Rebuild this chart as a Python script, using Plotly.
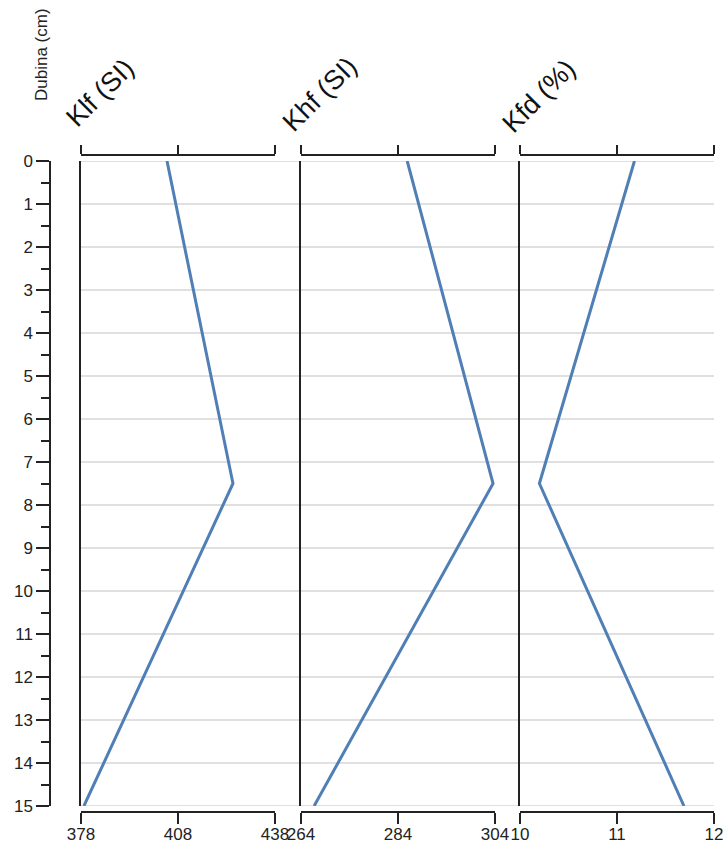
import plotly.graph_objects as go

depth = [0, 7.5, 15]
klf = [404.6, 425.0, 378.9]
khf = [285.9, 303.6, 266.7]
kfd = [11.18, 10.20, 11.69]

titles = ["Klf (SI)", "Khf (SI)", "Kfd (%)"]
ranges = [[378, 438], [264, 304], [10, 12]]
tickvals = [[378, 408, 438], [264, 284, 304], [10, 11, 12]]
depth_ticks = list(range(0, 16))

W, H = 723, 843
px = lambda x: x / W
py = lambda y: 1 - y / H

panels_px = [(81, 275), (301, 495), (520, 714)]
y_dom = [py(806), py(161)]
line_color = "#4f7fb5"
axis_color = "#222222"
font = "Liberation Sans, Arial, sans-serif"

fig = go.Figure()
series = [klf, khf, kfd]
for i, vals in enumerate(series):
    sfx = "" if i == 0 else str(i + 1)
    fig.add_trace(go.Scatter(x=vals, y=depth, mode="lines",
                             line=dict(color=line_color, width=3),
                             xaxis="x" + sfx, yaxis="y" + sfx, showlegend=False))
# dummy traces to ensure extra axes render
for k in range(4, 7):
    fig.add_trace(go.Scatter(x=[None], y=[None], xaxis="x%d" % k, yaxis="y",
                             showlegend=False, hoverinfo="skip"))
fig.add_trace(go.Scatter(x=[None], y=[None], xaxis="x", yaxis="y4",
                         showlegend=False, hoverinfo="skip"))

layout = dict(width=W, height=H,
              margin=dict(l=0, r=0, t=0, b=0, pad=0, autoexpand=False),
              paper_bgcolor="white", plot_bgcolor="rgba(0,0,0,0)",
              font=dict(family=font, color="#222222", size=17))

for i in range(3):
    sfx = "" if i == 0 else str(i + 1)
    dom = [px(panels_px[i][0]), px(panels_px[i][1])]
    # bottom data axis
    layout["xaxis" + sfx] = dict(domain=dom, range=ranges[i], anchor="free",
                                 position=py(812), side="bottom", automargin=False,
                                 tickvals=tickvals[i], ticks="outside", ticklen=11,
                                 tickwidth=1.5, tickcolor=axis_color,
                                 ticklabelstandoff=-4, ticklabeloverflow="allow",
                                 showline=True, linecolor=axis_color, linewidth=1.5,
                                 showgrid=False, zeroline=False,
                                 tickfont=dict(size=17, color="#222222"))
    # top axis
    layout["xaxis%d" % (i + 4)] = dict(domain=dom, range=ranges[i], anchor="free",
                                       position=py(155), side="top", automargin=False,
                                       overlaying="x" + sfx, matches="x" + sfx,
                                       tickvals=tickvals[i], ticks="outside", ticklen=9,
                                       tickwidth=1.5, tickcolor=axis_color,
                                       showticklabels=False,
                                       showline=True, linecolor=axis_color, linewidth=1.5,
                                       showgrid=False, zeroline=False)
    # panel y axis (left line only)
    layout["yaxis" + sfx] = dict(domain=y_dom, range=[15, 0], anchor="x" + sfx,
                                 automargin=False,
                                 showline=True, linecolor=axis_color, linewidth=1.5,
                                 showticklabels=False, ticks="", showgrid=False,
                                 zeroline=False, tickvals=depth_ticks)
    if i > 0:
        layout["yaxis" + sfx]["matches"] = "y"

# depth axis
layout["yaxis4"] = dict(domain=y_dom, range=[15, 0], overlaying="y", matches="y",
                        anchor="free", position=px(50), side="left", automargin=False,
                        tickvals=depth_ticks, ticks="outside", ticklen=13,
                        tickwidth=1.5, tickcolor=axis_color,
                        ticklabeloverflow="allow",
                        minor=dict(dtick=0.5, ticks="outside", ticklen=8,
                                   tickwidth=1.5, tickcolor=axis_color, showgrid=False),
                        showline=True, linecolor=axis_color, linewidth=1.5,
                        showgrid=False, zeroline=False,
                        tickfont=dict(size=17, color="#222222"))

fig.update_layout(**layout)

# horizontal gridlines across all panels
for d in depth_ticks:
    fig.add_shape(type="line", xref="paper", yref="y",
                  x0=px(panels_px[0][0]), x1=px(panels_px[2][1]), y0=d, y1=d,
                  line=dict(color="#d6d6d6", width=1.5), layer="below")

# panel titles
centers = [(100, 93), (320, 94), (539, 96)]
for t, (cx, cy) in zip(titles, centers):
    fig.add_annotation(text=t, x=px(cx), y=py(cy), xref="paper", yref="paper",
                       showarrow=False, textangle=-45,
                       font=dict(size=27, color="#111111", family=font),
                       xanchor="center", yanchor="middle")

fig.add_annotation(text="Dubina (cm)", x=px(41), y=py(55), xref="paper", yref="paper",
                   showarrow=False, textangle=-90,
                   font=dict(size=17, color="#222222", family=font),
                   xanchor="center", yanchor="middle")

fig.write_html("out.html", config={"displayModeBar": False},
               post_script="document.body.style.margin='0';document.body.style.overflow='hidden';")
